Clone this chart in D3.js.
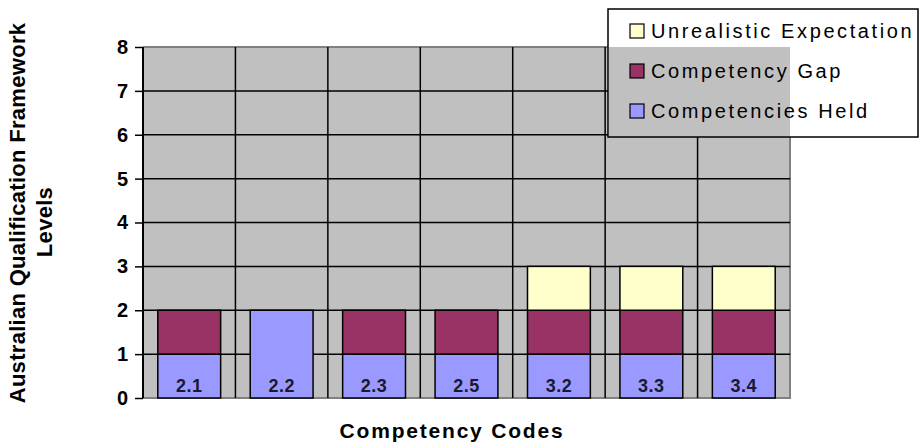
<!DOCTYPE html>
<html>
<head>
<meta charset="utf-8">
<script src="https://cdn.jsdelivr.net/npm/d3@7"></script>
<style>
  body { margin: 0; background: #fff; }
  svg { display: block; font-family: Arial, "Liberation Sans", sans-serif; }
</style>
</head>
<body>
<svg></svg>
<script>
const categories = ["2.1", "2.2", "2.3", "2.5", "3.2", "3.3", "3.4"]
const held = [1, 2, 1, 1, 1, 1, 1]
const gap = [1, 0, 1, 1, 1, 1, 1]
const unrealistic = [0, 0, 0, 0, 1, 1, 1]
const yTicks = [0, 1, 2, 3, 4, 5, 6, 7, 8]

const seriesNames = ["Competencies Held", "Competency Gap", "Unrealistic Expectation"]
const colors = ["#9999ff", "#993366", "#ffffcc"]

const width = 920
const height = 446
const margin = { top: 47, right: 130, bottom: 48, left: 143 }

const svg = d3.select("svg")
  .attr("width", width)
  .attr("height", height)

const x = d3.scaleBand()
  .domain(categories)
  .range([margin.left, width - margin.right])
  .paddingInner(0)
  .paddingOuter(0)

const y = d3.scaleLinear()
  .domain([0, 8])
  .range([height - margin.bottom, margin.top])

const table = categories.map((c, i) => ({
  cat: c,
  "Competencies Held": held[i],
  "Competency Gap": gap[i],
  "Unrealistic Expectation": unrealistic[i]
}))

const stacked = d3.stack().keys(seriesNames)(table)

// plot background
svg.append("rect")
  .attr("x", margin.left)
  .attr("y", margin.top)
  .attr("width", x.range()[1] - margin.left)
  .attr("height", y(0) - margin.top)
  .attr("fill", "#c0c0c0")

// top / right border in gray
svg.append("path")
  .attr("d", `M${margin.left},${y(8)}H${x.range()[1]}V${y(0)}H${margin.left}`)
  .attr("fill", "none")
  .attr("stroke", "#808080")
  .attr("stroke-width", 2)

// horizontal gridlines
svg.append("g")
  .selectAll("line")
  .data(yTicks.filter(d => d > 0 && d < 8))
  .join("line")
  .attr("x1", margin.left)
  .attr("x2", x.range()[1])
  .attr("y1", d => y(d))
  .attr("y2", d => y(d))
  .attr("stroke", "#000")
  .attr("stroke-width", 1.5)

// vertical gridlines at category boundaries
svg.append("g")
  .selectAll("line")
  .data(categories.slice(1))
  .join("line")
  .attr("x1", d => x(d))
  .attr("x2", d => x(d))
  .attr("y1", y(8))
  .attr("y2", y(0))
  .attr("stroke", "#000")
  .attr("stroke-width", 1.5)

// bars
const barW = x.bandwidth() * 0.68
svg.append("g")
  .selectAll("g")
  .data(stacked)
  .join("g")
  .attr("fill", (d, i) => colors[i])
  .selectAll("rect")
  .data(d => d.filter(s => s[1] > s[0]))
  .join("rect")
  .attr("x", d => x(d.data.cat) + (x.bandwidth() - barW) / 2)
  .attr("width", barW)
  .attr("y", d => y(d[1]))
  .attr("height", d => y(d[0]) - y(d[1]))
  .attr("stroke", "#000")
  .attr("stroke-width", 1.5)

// category labels inside bars
svg.append("g")
  .selectAll("text")
  .data(categories)
  .join("text")
  .attr("x", d => x(d) + x.bandwidth() / 2)
  .attr("y", y(0) - 6)
  .attr("text-anchor", "middle")
  .attr("font-size", 18)
  .attr("font-weight", "bold")
  .attr("letter-spacing", 0.5)
  .attr("fill", "#1a1a2e")
  .text(d => d)

// y axis
const yAxis = d3.axisLeft(y)
  .tickValues(yTicks)
  .tickSize(8)
  .tickPadding(7)
  .tickFormat(d3.format("d"))

const yg = svg.append("g")
  .attr("transform", `translate(${margin.left},0)`)
  .call(yAxis)
yg.select(".domain").attr("stroke", "#000").attr("stroke-width", 2).attr("d", `M0,${y(8)}V${y(0)}`)
yg.selectAll(".tick line").attr("stroke", "#000").attr("stroke-width", 1.5)
yg.selectAll(".tick text")
  .attr("font-size", 20)
  .attr("font-weight", "bold")
  .attr("fill", "#000")
  .attr("font-family", "Arial, 'Liberation Sans', sans-serif")

// axis titles
svg.append("text")
  .attr("x", 452)
  .attr("y", 438)
  .attr("text-anchor", "middle")
  .attr("font-size", 21)
  .attr("font-weight", "bold")
  .attr("letter-spacing", 1.8)
  .text("Competency Codes")

const yTitle = svg.append("text")
  .attr("transform", `translate(25, 213) rotate(-90)`)
  .attr("text-anchor", "middle")
  .attr("font-size", 22)
  .attr("font-weight", "bold")
  .attr("letter-spacing", 0.3)
yTitle.append("tspan").attr("x", 0).attr("dy", 0).text("Australian Qualification Framework")
yTitle.append("tspan").attr("x", -9).attr("dy", 27).text("Levels")

// legend
const lg = { x: 608, y: 9, w: 310, h: 128 }
svg.append("rect")
  .attr("x", lg.x).attr("y", lg.y)
  .attr("width", lg.w).attr("height", lg.h)
  .attr("fill", "#fff")
// plot gray shows through the legend where they overlap
svg.append("rect")
  .attr("x", lg.x + 1)
  .attr("y", margin.top)
  .attr("width", x.range()[1] - lg.x - 1)
  .attr("height", lg.y + lg.h - margin.top)
  .attr("fill", "#c0c0c0")
svg.append("rect")
  .attr("x", lg.x).attr("y", lg.y)
  .attr("width", lg.w).attr("height", lg.h)
  .attr("fill", "none")
  .attr("stroke", "#000")
  .attr("stroke-width", 1.5)

const legendItems = seriesNames.map((n, i) => ({ name: n, color: colors[i] })).reverse()
const li = svg.append("g")
  .selectAll("g")
  .data(legendItems)
  .join("g")
  .attr("transform", (d, i) => `translate(${lg.x + 22}, ${lg.y + 15 + i * 40})`)
li.append("rect")
  .attr("width", 14).attr("height", 14)
  .attr("fill", d => d.color)
  .attr("stroke", "#000")
  .attr("stroke-width", 1.2)
li.append("text")
  .attr("x", 21)
  .attr("y", 14)
  .attr("font-size", 20)
  .attr("letter-spacing", 2.6)
  .attr("fill", "#000")
  .text(d => d.name)
</script>
</body>
</html>
